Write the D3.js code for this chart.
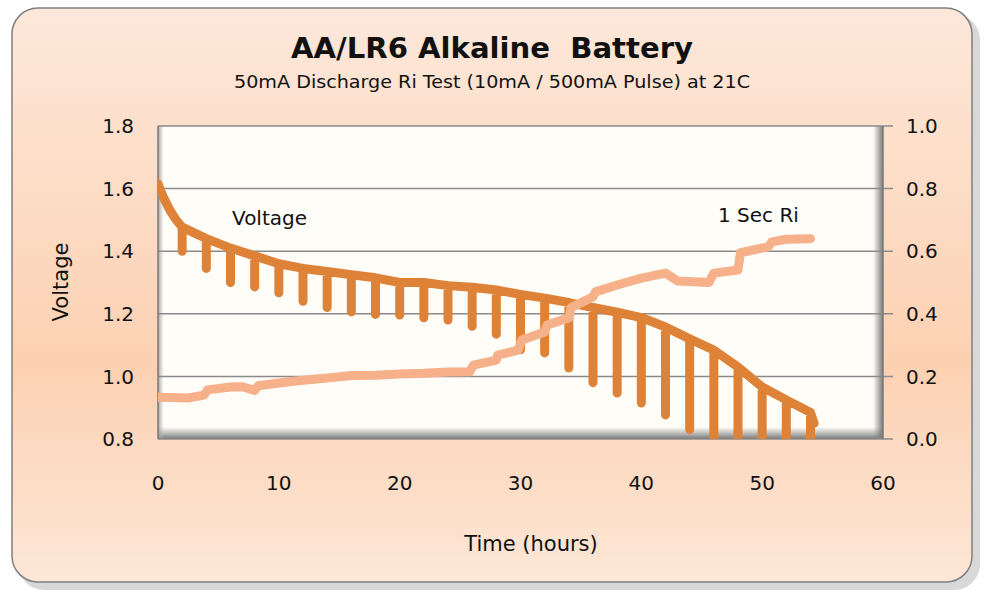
<!DOCTYPE html>
<html>
<head>
<meta charset="utf-8">
<script src="https://cdn.jsdelivr.net/npm/d3@7"></script>
<style>
  body { margin: 0; background: #fff; }
  text { font-family: "DejaVu Sans", Verdana, sans-serif; fill: #111; }
</style>
</head>
<body>
<div id="chart"></div>
<script>
// voltage: initial drop, then a 500mA pulse every 2 hours
var startTime = [0, 0.25, 0.5, 1, 1.5];
var startVolt = [1.615, 1.59, 1.568, 1.53, 1.50];
var pulseTime = [2, 4, 6, 8, 10, 12, 14, 16, 18, 20, 22, 24, 26, 28,
                 30, 32, 34, 36, 38, 40, 42, 44, 46, 48, 50, 52, 54];
var baseVolt  = [1.477, 1.44, 1.41, 1.385, 1.36, 1.345, 1.335, 1.325, 1.315, 1.30, 1.30, 1.29, 1.285, 1.276,
                 1.262, 1.25, 1.236, 1.22, 1.205, 1.188, 1.158, 1.12, 1.084, 1.03, 0.966, 0.925, 0.885];
var pulseVolt = [1.40, 1.345, 1.30, 1.286, 1.267, 1.24, 1.22, 1.206, 1.198, 1.196, 1.187, 1.18, 1.16, 1.135,
                 1.085, 1.075, 1.027, 0.98, 0.947, 0.915, 0.877, 0.83, 0.7, 0.7, 0.7, 0.7, 0.7];
var endTime = 54.3, endVolt = 0.85;

// 1 sec internal resistance (ohm)
var riTime  = [0, 2.5, 3.8, 4.1, 6, 7, 8, 8.3, 10, 12, 14, 16, 18, 20, 22, 24, 25.8, 26.1,
               28, 28.1, 29.8, 30.1, 32, 32.2, 34, 34.2, 36, 36.2, 38, 40, 42, 43, 45.6, 46,
               48, 48.2, 50.5, 50.8, 52, 54];
var riValue = [0.133, 0.131, 0.14, 0.157, 0.166, 0.167, 0.155, 0.17, 0.179, 0.188, 0.195, 0.203, 0.204, 0.208, 0.21, 0.214, 0.215, 0.236,
               0.252, 0.268, 0.284, 0.316, 0.342, 0.364, 0.387, 0.42, 0.454, 0.47, 0.492, 0.514, 0.53, 0.505, 0.50, 0.53,
               0.54, 0.595, 0.614, 0.63, 0.638, 0.64];

var xTicks = [0, 10, 20, 30, 40, 50, 60];
var vTicks = [0.8, 1.0, 1.2, 1.4, 1.6, 1.8];
var rTicks = [0.0, 0.2, 0.4, 0.6, 0.8, 1.0];

function init(){
    var w = 985, h = 594;
    var pL = 158, pR = 883, pT = 126, pB = 439;

    var svg = d3.select("#chart").append("svg")
        .attr("width", w).attr("height", h);

    var defs = svg.append("defs");
    var bg = defs.append("linearGradient").attr("id", "bg")
        .attr("x1", 0).attr("y1", 0).attr("x2", 0).attr("y2", 1);
    bg.append("stop").attr("offset", 0).attr("stop-color", "#fde8da");
    bg.append("stop").attr("offset", 0.62).attr("stop-color", "#fcd1b2");
    bg.append("stop").attr("offset", 1).attr("stop-color", "#fde7d7");

    var sb = defs.append("linearGradient").attr("id", "shadeB")
        .attr("x1", 0).attr("y1", 0).attr("x2", 0).attr("y2", 1);
    sb.append("stop").attr("offset", 0).attr("stop-color", "#888").attr("stop-opacity", 0);
    sb.append("stop").attr("offset", 1).attr("stop-color", "#777").attr("stop-opacity", 1);
    var sr = defs.append("linearGradient").attr("id", "shadeR")
        .attr("x1", 0).attr("y1", 0).attr("x2", 1).attr("y2", 0);
    sr.append("stop").attr("offset", 0).attr("stop-color", "#888").attr("stop-opacity", 0);
    sr.append("stop").attr("offset", 1).attr("stop-color", "#777").attr("stop-opacity", 1);
    var sl = defs.append("linearGradient").attr("id", "shadeL")
        .attr("x1", 0).attr("y1", 0).attr("x2", 1).attr("y2", 0);
    sl.append("stop").attr("offset", 0).attr("stop-color", "#999").attr("stop-opacity", 0.9);
    sl.append("stop").attr("offset", 1).attr("stop-color", "#bbb").attr("stop-opacity", 0);

    defs.append("clipPath").attr("id", "plotClip")
        .append("rect").attr("x", pL).attr("y", pT - 10)
        .attr("width", pR - pL).attr("height", pB - pT + 10);

    // outer box with shadow
    svg.append("rect").attr("x", 18).attr("y", 14).attr("width", 962).attr("height", 576)
        .attr("rx", 26).attr("fill", "#d8d8d8");
    svg.append("rect").attr("x", 12).attr("y", 8).attr("width", 960).attr("height", 574)
        .attr("rx", 26).attr("fill", "url(#bg)").attr("stroke", "#7f7f7f").attr("stroke-width", 1.5);

    // plot area
    svg.append("rect").attr("x", pL).attr("y", pT)
        .attr("width", pR - pL).attr("height", pB - pT).attr("fill", "#fffdf8");
    svg.append("rect").attr("x", pL).attr("y", pB - 12)
        .attr("width", pR - pL).attr("height", 12).attr("fill", "url(#shadeB)");
    svg.append("rect").attr("x", pR - 10).attr("y", pT)
        .attr("width", 10).attr("height", pB - pT).attr("fill", "url(#shadeR)");
    svg.append("rect").attr("x", pL).attr("y", pT)
        .attr("width", 6).attr("height", pB - pT).attr("fill", "url(#shadeL)");

    var xScale = d3.scaleLinear().domain([0, 60]).range([pL, pR]);
    var yV = d3.scaleLinear().domain([0.8, 1.8]).range([pB, pT]);
    var yR = d3.scaleLinear().domain([0, 1.0]).range([pB, pT]);

    // gridlines
    svg.selectAll(".grid").data(vTicks).enter().append("line")
        .attr("x1", pL).attr("x2", pR + 10)
        .attr("y1", function(d){ return yV(d); })
        .attr("y2", function(d){ return yV(d); })
        .attr("stroke", "#8a8a8a").attr("stroke-width", 1.5);
    svg.append("line").attr("x1", pL).attr("x2", pL).attr("y1", pT).attr("y2", pB)
        .attr("stroke", "#7a7a7a").attr("stroke-width", 1.5);
    svg.append("line").attr("x1", pR).attr("x2", pR).attr("y1", pT).attr("y2", pB)
        .attr("stroke", "#7a7a7a").attr("stroke-width", 1.5);

    // tick labels
    svg.selectAll(".vt").data(vTicks).enter().append("text")
        .attr("x", 134).attr("y", function(d){ return yV(d); })
        .attr("dy", "0.36em").attr("text-anchor", "end").attr("font-size", 20)
        .text(function(d){ return d.toFixed(1); });
    svg.selectAll(".rt").data(rTicks).enter().append("text")
        .attr("x", 906).attr("y", function(d){ return yR(d); })
        .attr("dy", "0.36em").attr("text-anchor", "start").attr("font-size", 20)
        .text(function(d){ return d.toFixed(1); });
    svg.selectAll(".xt").data(xTicks).enter().append("text")
        .attr("x", function(d){ return xScale(d); }).attr("y", 483)
        .attr("dy", "0.36em").attr("text-anchor", "middle").attr("font-size", 20)
        .text(function(d){ return d; });

    // build voltage path from the arrays
    var vPoints = [];
    startTime.forEach(function(t, i){ vPoints.push([t, startVolt[i]]); });
    pulseTime.forEach(function(t, i){
        vPoints.push([t, baseVolt[i]]);
        vPoints.push([t, pulseVolt[i]]);
        vPoints.push([t, baseVolt[i]]);
    });
    vPoints.push([endTime, endVolt]);

    var plot = svg.append("g").attr("clip-path", "url(#plotClip)");
    plot.append("path").datum(vPoints)
        .attr("d", d3.line()
            .x(function(d){ return xScale(d[0]); })
            .y(function(d){ return yV(d[1]); }))
        .attr("fill", "none").attr("stroke", "#de8237").attr("stroke-width", 9)
        .attr("stroke-linejoin", "round").attr("stroke-linecap", "round");

    var riPoints = riTime.map(function(t, i){ return [t, riValue[i]]; });
    plot.append("path").datum(riPoints)
        .attr("d", d3.line()
            .x(function(d){ return xScale(d[0]); })
            .y(function(d){ return yR(d[1]); }))
        .attr("fill", "none").attr("stroke", "#f6b08a").attr("stroke-width", 9)
        .attr("stroke-linejoin", "round").attr("stroke-linecap", "round");

    // annotations
    svg.append("text").attr("x", 232).attr("y", 218).attr("dy", "0.36em")
        .attr("font-size", 20).text("Voltage");
    svg.append("text").attr("x", 718).attr("y", 215).attr("dy", "0.36em")
        .attr("font-size", 20).text("1 Sec Ri");

    // titles
    svg.append("text").attr("x", 492).attr("y", 58).attr("text-anchor", "middle")
        .attr("font-size", 29).attr("font-weight", "bold")
        .style("white-space", "pre")
        .attr("textLength", 402).attr("lengthAdjust", "spacingAndGlyphs")
        .text("AA/LR6 Alkaline  Battery");
    svg.append("text").attr("x", 492).attr("y", 88).attr("text-anchor", "middle")
        .attr("font-size", 17)
        .attr("textLength", 516).attr("lengthAdjust", "spacingAndGlyphs")
        .text("50mA Discharge Ri Test (10mA / 500mA Pulse) at 21C");
    svg.append("text").attr("x", 531).attr("y", 543).attr("dy", "0.36em")
        .attr("text-anchor", "middle").attr("font-size", 21).text("Time (hours)");
    svg.append("text").attr("transform", "translate(60,282) rotate(-90)")
        .attr("dy", "0.36em").attr("text-anchor", "middle").attr("font-size", 21)
        .text("Voltage");
}
window.onload = init;
</script>
</body>
</html>
